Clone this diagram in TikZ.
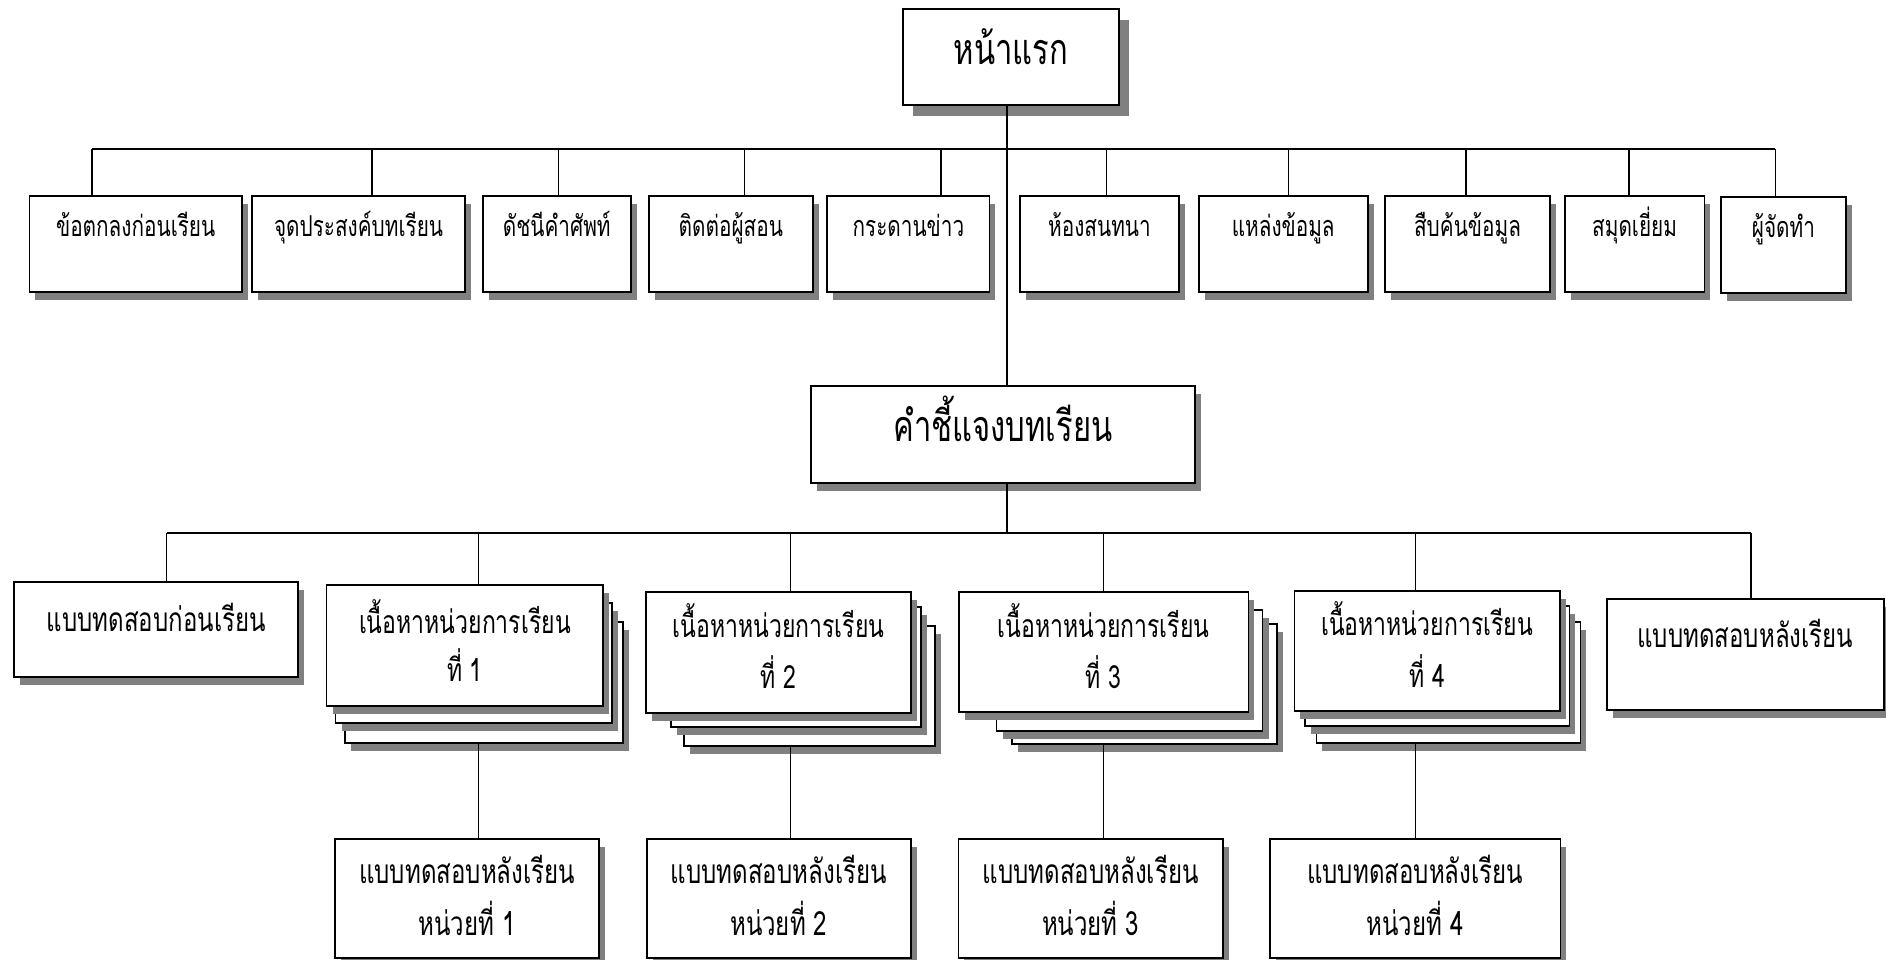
\documentclass[tikz,border=0pt]{standalone}
\usepackage{fontspec}
\newfontfamily\thai[Script=Thai,FakeStretch=0.72]{Loma}
\usetikzlibrary{shadows}
\tikzset{
  box/.style={draw, line width=1.8pt, fill=white, inner sep=0pt},
  sh/.style={drop shadow={shadow xshift=6pt, shadow yshift=-8pt, fill=black!50, opacity=1}},
  shbig/.style={drop shadow={shadow xshift=10pt, shadow yshift=-11pt, fill=black!50, opacity=1}},
  link/.style={line width=1.7pt},
  txt/.style={anchor=base, inner sep=0pt},
  fsmall/.style={font=\thai\fontsize{28.8}{32}\selectfont},
  fmid/.style={font=\thai\fontsize{32}{36}\selectfont},
  fbot/.style={font=\thai\fontsize{33.4}{36}\selectfont},
  fbig/.style={font=\thai\fontsize{43}{50}\selectfont},
}
% #1 options, #2 name, #3 x1, #4 y1, #5 x2, #6 y2
\newcommand\bx[6][]{\node[box,#1,minimum width={#5-#3},minimum height={#6-#4}] (#2) at ({(#3+#5)/2},{(#4+#6)/2}) {};}
% #1 options, #2 name, #3 box, #4 offset from top, #5 text
\newcommand\tx[5][]{\node[txt,#1] (#2) at ([yshift=-#4pt]#3.north) {#5};}
\begin{document}
\begin{tikzpicture}[x=1pt,y=-1pt]
\fill[white] (0,0) rectangle (1886,960);
\useasboundingbox (0,0) rectangle (1886,960);

% top
\bx[shbig]{n0}{902.7}{9.3}{1119}{105}
\tx[fbig]{n0t}{n0}{56}{หน้าแรก}

% first row
\bx[sh]{b1}{29.4}{196}{242}{292}
\bx[sh]{b2}{251.8}{196}{465.3}{292}
\bx[sh]{b3}{482.9}{196}{630.6}{292}
\bx[sh]{b4}{648.6}{196}{813}{292}
\bx[sh]{b5}{827.3}{196}{989.4}{292}
\bx[sh]{b6}{1020}{196}{1179}{292}
\bx[sh]{b7}{1198.8}{196}{1367.6}{292}
\bx[sh]{b8}{1385}{196}{1550}{292}
\bx[sh]{b9}{1564.8}{196}{1704.4}{292}
\bx[sh]{b10}{1720.6}{197}{1846.3}{293}
\tx[fsmall]{b1t}{b1}{41}{ข้อตกลงก่อนเรียน}
\tx[fsmall]{b2t}{b2}{41}{จุดประสงค์บทเรียน}
\tx[fsmall]{b3t}{b3}{41}{ดัชนีคำศัพท์}
\tx[fsmall]{b4t}{b4}{41}{ติดต่อผู้สอน}
\tx[fsmall]{b5t}{b5}{41}{กระดานข่าว}
\tx[fsmall]{b6t}{b6}{41}{ห้องสนทนา}
\tx[fsmall]{b7t}{b7}{41}{แหล่งข้อมูล}
\tx[fsmall]{b8t}{b8}{41}{สืบค้นข้อมูล}
\tx[fsmall]{b9t}{b9}{41}{สมุดเยี่ยม}
\tx[fsmall]{b10t}{b10}{41}{ผู้จัดทำ}

% middle
\bx[sh]{n1}{811}{386}{1195}{482.7}
\tx[fbig]{n1t}{n1}{56}{คำชี้แจงบทเรียน}

% second row
\bx[sh]{pre}{14.3}{581.7}{298}{677.3}
\tx[fbot]{pret}{pre}{51}{แบบทดสอบก่อนเรียน}
\bx[sh]{post}{1606.7}{599}{1883.8}{710}
\tx[fbot]{postt}{post}{49}{แบบทดสอบหลังเรียน}

% unit stacks (back, middle, front)
\bx[sh]{u1c}{345}{621.7}{623}{742.7}
\bx[sh]{u1b}{335.5}{603.3}{612}{723.3}
\bx[sh]{u1a}{326.5}{585}{603.3}{705.7}
\tx[fmid]{u1t}{u1a}{49}{เนื้อหาหน่วยการเรียน}
\tx[fmid]{u1n}{u1a}{97}{ที่ 1}

\bx[sh]{u2c}{684.3}{625.7}{935.3}{745.7}
\bx[sh]{u2b}{670.8}{606.7}{920.6}{726.7}
\bx[sh]{u2a}{646.3}{592.3}{910.8}{713.3}
\tx[fmid]{u2t}{u2a}{46}{เนื้อหาหน่วยการเรียน}
\tx[fmid]{u2n}{u2a}{97}{ที่ 2}

\bx[sh]{u3c}{1011.6}{624.3}{1276.7}{744.3}
\bx[sh]{u3b}{996.5}{610}{1262.5}{730.7}
\bx[sh]{u3a}{958.6}{592.3}{1248.4}{712}
\tx[fmid]{u3t}{u3a}{46}{เนื้อหาหน่วยการเรียน}
\tx[fmid]{u3n}{u3a}{97}{ที่ 3}

\bx[sh]{u4c}{1316.4}{622.3}{1580.4}{742.7}
\bx[sh]{u4b}{1304.6}{606}{1569.4}{725.7}
\bx[sh]{u4a}{1294.4}{591}{1559.6}{710.7}
\tx[fmid]{u4t}{u4a}{45}{เนื้อหาหน่วยการเรียน}
\tx[fmid]{u4n}{u4a}{97}{ที่ 4}

% bottom row
\bx[sh]{q1}{335.3}{839}{599}{958.3}
\bx[sh]{q2}{646.7}{839}{910.8}{958.3}
\bx[sh]{q3}{958.4}{839}{1222.9}{958.3}
\bx[sh]{q4}{1269.8}{839}{1560.4}{958.3}
\tx[fbot]{q1t}{q1}{45}{แบบทดสอบหลังเรียน}
\tx[fbot]{q1n}{q1}{97}{หน่วยที่ 1}
\tx[fbot]{q2t}{q2}{45}{แบบทดสอบหลังเรียน}
\tx[fbot]{q2n}{q2}{97}{หน่วยที่ 2}
\tx[fbot]{q3t}{q3}{45}{แบบทดสอบหลังเรียน}
\tx[fbot]{q3n}{q3}{97}{หน่วยที่ 3}
\tx[fbot]{q4t}{q4}{45}{แบบทดสอบหลังเรียน}
\tx[fbot]{q4n}{q4}{97}{หน่วยที่ 4}

% connectors: top level
\coordinate (hub) at (1007,149);
\coordinate (a1) at (91.8,149);
\coordinate (a2) at (372,149);
\coordinate (a3) at (558.4,149);
\coordinate (a4) at (744.5,149);
\coordinate (a5) at (940.8,149);
\coordinate (a6) at (1106.5,149);
\coordinate (a7) at (1288.5,149);
\coordinate (a8) at (1465.8,149);
\coordinate (a9) at (1629,149);
\coordinate (a10) at (1775.4,149);
\draw[link] (hub |- n0.south) -- (hub |- n1.north);
\draw[link] (a1) -- (a10);
\foreach \i in {1,...,10} {\draw[link] (a\i) -- (a\i |- b\i.north);}

% connectors: second level
\coordinate (mhub) at (1007,533);
\coordinate (k0) at (166.5,533);
\coordinate (k1) at (478.4,533);
\coordinate (k2) at (790.4,533);
\coordinate (k3) at (1103.5,533);
\coordinate (k4) at (1415.4,533);
\coordinate (k5) at (1751.3,533);
\draw[link] (mhub |- n1.south) -- (mhub);
\draw[link] (k0) -- (k5);
\draw[link] (k0) -- (k0 |- pre.north);
\draw[link] (k5) -- (k5 |- post.north);
\foreach \i in {1,...,4} {
  \draw[link] (k\i) -- (k\i |- u\i a.north);
  \draw[link] (k\i |- u\i c.south) -- (k\i |- q\i.north);
}
\end{tikzpicture}
\end{document}
